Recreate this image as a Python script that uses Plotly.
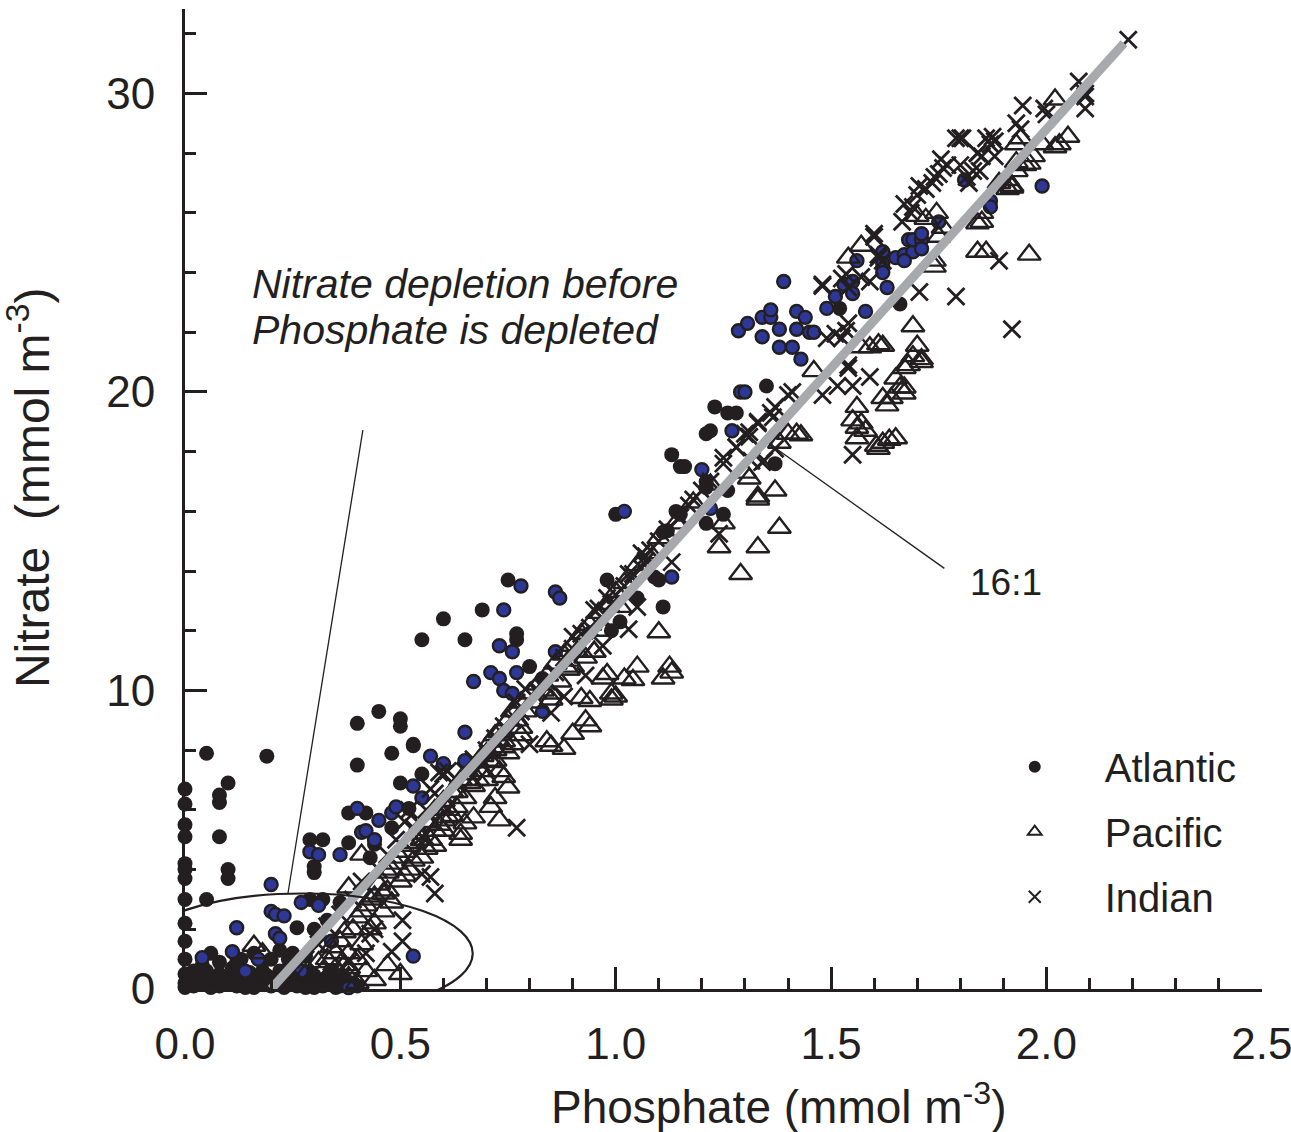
import plotly.graph_objects as go

# ---- Atlantic (solid black stations) ----
atl_black_p = [0.0, 0.0, 0.0, 0.0, 0.0, 0.0, 0.0, 0.0, 0.0, 0.0, 0.0, 0.0, 0.0, 0.0,
               0.05, 0.19, 0.10, 0.08, 0.08, 0.08, 0.10, 0.10, 0.05, 0.29, 0.32, 0.30, 0.30,
               0.40, 0.48, 0.53, 0.55, 0.50, 0.38, 0.42, 0.52, 0.48, 0.38, 0.44, 0.43, 0.29,
               0.32, 0.26, 0.30, 0.06, 0.33, 0.36,
               0.75, 0.69, 0.60, 0.55, 0.65, 0.77, 0.77, 0.80, 0.83, 0.45, 0.40, 0.50, 0.50, 0.53,
               1.35, 1.23, 1.26, 1.28, 1.21, 1.22, 1.13, 1.15, 1.16, 1.21, 1.21, 1.14, 1.15, 1.25,
               1.21, 1.26, 1.00, 1.11, 1.12, 1.09, 1.10, 0.98, 1.05, 1.11, 1.01, 0.99, 1.37, 1.52, 1.66,
               0.02, 0.03, 0.04, 0.05, 0.06, 0.07, 0.08, 0.09, 0.10, 0.11, 0.12, 0.13, 0.14, 0.15,
               0.16, 0.17, 0.18, 0.19, 0.20, 0.21, 0.22, 0.23, 0.24, 0.25, 0.26, 0.27, 0.28, 0.29,
               0.30, 0.31, 0.32, 0.33, 0.34, 0.35, 0.36, 0.38, 0.40, 0.12, 0.18, 0.24, 0.16, 0.22, 0.28,
               0.01, 0.02, 0.04, 0.06, 0.08, 0.10, 0.12, 0.14, 0.16, 0.18, 0.20, 0.22, 0.24, 0.26,
               0.28, 0.30, 0.32, 0.34, 0.36, 0.37, 0.39, 0.25, 0.13, 0.08, 0.20]
atl_black_n = [6.7, 6.2, 5.5, 5.1, 4.2, 4.0, 3.7, 3.0, 2.2, 1.6, 1.0, 0.5, 0.2, 0.05,
               7.9, 7.8, 6.9, 6.5, 6.25, 5.1, 4.0, 3.7, 3.0, 5.0, 5.0, 4.1, 3.9,
               7.5, 7.9, 8.2, 7.2, 6.9, 5.9, 5.9, 6.05, 5.4, 4.9, 4.85, 4.4, 3.0,
               3.0, 2.05, 2.0, 1.2, 2.3, 2.9,
               13.7, 12.7, 12.4, 11.7, 11.7, 11.9, 11.7, 10.8, 10.4, 9.3, 8.9, 9.05, 8.8, 8.15,
               20.2, 19.5, 19.3, 19.3, 18.6, 18.7, 17.9, 17.5, 17.5, 17.0, 16.8, 16.0, 15.9, 15.9,
               15.6, 16.7, 15.9, 15.3, 15.35, 13.8, 13.7, 13.7, 13.1, 12.8, 12.3, 12.0, 17.6, 22.8, 22.95,
               0.1, 0.4, 0.2, 0.6, 0.05, 0.3, 0.5, 0.15, 0.4, 0.7, 0.1, 0.35, 0.2, 0.55,
               0.05, 0.3, 0.15, 0.45, 0.1, 0.3, 0.6, 0.05, 0.25, 0.5, 0.1, 0.35, 0.15, 0.55,
               0.05, 0.3, 0.1, 0.4, 0.15, 0.05, 0.25, 0.05, 0.1, 0.9, 0.9, 1.0, 1.2, 1.3, 1.1,
               0.3, 0.6, 0.8, 0.4, 0.1, 0.2, 0.5, 0.05, 0.4, 0.6, 0.35, 0.15, 0.7, 0.35,
               0.05, 0.45, 0.3, 0.6, 0.1, 0.4, 0.2, 1.2, 1.0, 0.9, 1.0]

# ---- Atlantic (blue-filled stations) ----
atl_blue_p = [0.20, 0.29, 0.31, 0.36, 0.57, 0.60, 0.53, 0.55, 0.40, 0.45, 0.48, 0.49, 0.41, 0.42,
              0.44, 0.27, 0.31, 0.20, 0.21, 0.23, 0.12, 0.21, 0.22, 0.04, 0.11, 0.17, 0.14, 0.27,
              0.34, 0.53, 0.38,
              0.78, 0.86, 0.87, 0.74, 0.73, 0.76, 0.86, 0.77, 0.71, 0.73, 0.67, 0.74, 0.76, 0.83,
              0.65, 0.65,
              1.29, 1.30, 1.27, 1.20, 1.22, 1.02, 1.13,
              1.39, 1.285, 1.306, 1.34, 1.36, 1.36, 1.34, 1.38, 1.42, 1.44, 1.42, 1.45, 1.46, 1.38,
              1.41, 1.43, 1.49, 1.51, 1.53, 1.55, 1.55, 1.58, 1.56, 1.62, 1.62, 1.63, 1.65, 1.67,
              1.69, 1.67, 1.68, 1.69, 1.71, 1.71, 1.71,
              1.81, 1.99, 1.87, 1.87, 1.75, 1.62]
atl_blue_n = [3.5, 4.6, 4.5, 4.5, 7.8, 7.55, 6.8, 6.4, 6.05, 5.65, 5.9, 6.1, 5.25, 5.3,
              5.0, 2.9, 2.8, 2.6, 2.5, 2.45, 2.05, 1.85, 1.7, 1.05, 1.25, 1.0, 0.6, 0.6,
              1.6, 1.1, 0.05,
              13.5, 13.3, 13.1, 12.7, 11.5, 11.3, 11.3, 10.6, 10.6, 10.4, 10.3, 10.0, 9.9, 9.3,
              8.6, 7.65,
              20.0, 20.0, 18.7, 17.4, 16.1, 16.0, 13.8,
              23.7, 22.05, 22.3, 22.5, 22.5, 22.75, 21.85, 22.1, 22.7, 22.5, 22.1, 22.0, 22.0, 21.5,
              21.5, 21.1, 22.8, 23.2, 23.6, 23.7, 23.3, 22.7, 24.4, 24.7, 24.3, 23.5, 24.5, 24.6,
              24.7, 24.4, 25.1, 25.1, 25.1, 25.3, 24.8,
              27.1, 26.9, 26.4, 26.2, 25.7, 24.0]

# ---- Pacific ----
pac_p = [0.16, 0.18, 0.41, 0.38, 0.38, 0.64, 0.60, 0.58,
         0.30, 0.32, 0.33, 0.35, 0.36, 0.37, 0.38, 0.39, 0.40, 0.41, 0.42, 0.43, 0.44, 0.45,
         0.46, 0.47, 0.48, 0.49, 0.50, 0.51, 0.52, 0.53, 0.54, 0.55, 0.56, 0.57, 0.58, 0.59,
         0.60, 0.62, 0.63, 0.64, 0.66, 0.67, 0.68, 0.70, 0.71, 0.72, 0.73, 0.75, 0.76, 0.78,
         0.80, 0.82, 0.84, 0.86, 0.88, 0.90, 0.92, 0.94, 0.96, 0.98, 1.00, 1.02, 1.05, 1.08,
         1.10, 1.14, 1.18, 1.22,
         0.33, 0.36, 0.40, 0.42, 0.44, 0.47, 0.50,
         0.92, 0.94, 0.93, 0.94, 0.89, 0.95, 0.85, 0.85, 0.84, 0.85, 0.88, 0.90, 0.78, 0.78,
         0.74, 0.75, 0.76, 0.72, 0.73, 0.69, 0.70, 0.74, 0.75, 0.72, 0.71, 0.73, 0.67, 0.65,
         0.61, 0.60, 0.64,
         1.33, 1.25, 1.24, 1.33, 1.29, 1.10, 1.05, 1.04, 1.02, 1.125, 1.13, 1.11, 0.97, 0.98,
         0.99, 1.00, 0.99, 0.95, 0.93, 0.90, 0.89,
         1.69, 1.70, 1.69, 1.71, 1.71, 1.67, 1.68, 1.65, 1.66, 1.67, 1.67, 1.62, 1.63, 1.64,
         1.56, 1.55, 1.56, 1.57, 1.56, 1.58, 1.605, 1.62, 1.635, 1.65, 1.61, 1.61, 1.62, 1.59,
         1.57, 1.46, 1.42, 1.43, 1.33, 1.37, 1.38, 1.30, 1.31, 1.57, 1.54, 1.84,
         1.86, 1.96, 1.84, 1.85, 1.70, 1.72, 1.745, 1.76, 1.93, 1.96, 1.97, 1.99, 2.02, 2.05,
         1.93, 1.94, 2.02, 1.89, 1.91, 1.92, 1.85, 1.74, 1.75, 1.74,
         2.03, 1.95, 1.93, 1.92, 1.91, 1.38, 1.40,
         0.26, 0.28, 0.29, 0.31, 0.33, 0.34, 0.35, 0.37, 0.38, 0.40, 0.41, 0.43, 0.44, 0.46,
         0.47, 0.48, 0.50, 0.51, 0.52, 0.53, 0.55, 0.56, 0.57, 0.58, 0.59, 0.61, 0.62, 0.63,
         0.65, 0.66, 0.68, 0.69, 0.71, 0.72, 0.74, 0.77, 0.79, 0.81, 0.83, 0.87, 0.89, 0.91,
         0.97, 1.01]
pac_n = [1.45, 1.2, 4.5, 3.4, 0.7, 5.0, 5.65, 5.3,
         0.3, 0.6, 1.0, 1.2, 1.6, 0.8, 0.4, 2.0, 2.4, 1.5, 2.8, 3.0, 2.2, 3.5,
         3.2, 3.9, 2.9, 4.2, 3.6, 4.6, 4.0, 4.9, 5.2, 4.4, 5.6, 5.0, 6.0, 5.5,
         6.3, 6.6, 6.1, 7.0, 7.2, 6.8, 7.6, 7.9, 8.3, 8.0, 8.6, 9.0, 9.3, 9.6,
         9.9, 10.2, 10.5, 10.9, 11.2, 11.5, 11.9, 12.2, 12.6, 12.9, 13.3, 13.6, 14.2, 14.6,
         15.1, 15.6, 16.3, 16.9,
         0.3, 0.5, 0.2, 0.6, 0.3, 0.8, 0.5,
         9.75, 9.65, 9.0, 8.8, 10.7, 11.3, 9.9, 9.7, 8.3, 8.15, 8.05, 8.55, 8.75, 8.5,
         8.1, 7.9, 8.2, 7.65, 7.3, 7.3, 7.0, 7.1, 6.75, 6.4, 6.1, 5.65, 5.75, 5.55,
         5.75, 5.3, 5.2,
         16.4, 15.6, 14.8, 14.8, 13.9, 11.95, 10.8, 10.35, 10.4, 10.8, 10.6, 10.4, 10.4, 10.55,
         9.9, 9.8, 9.7, 11.3, 11.1, 10.8, 10.7,
         22.2, 21.55, 21.2, 21.1, 21.0, 20.8, 20.9, 20.45, 20.15, 19.95, 20.15, 19.8, 19.55, 19.8,
         19.5, 19.05, 18.8, 18.95, 18.45, 18.7, 18.2, 18.3, 18.4, 18.45, 18.1, 21.6, 21.55, 21.5,
         21.5, 20.7, 18.6, 18.55, 16.5, 16.7, 15.45, 17.3, 17.1, 24.9, 24.5, 24.7,
         24.7, 24.6, 25.65, 25.7, 25.9, 25.8, 26.0, 25.5, 27.7, 27.65, 27.9, 28.3, 28.2, 28.55,
         28.3, 28.5, 29.8, 27.0, 27.1, 26.85, 26.0, 24.4, 25.2, 24.2,
         28.3, 27.6, 27.4, 26.9, 26.8, 18.3, 18.6,
         0.2, 0.5, 0.1, 0.9, 0.4, 1.4, 0.7, 1.9, 1.2, 1.0, 2.6, 2.0, 3.1, 2.6,
         3.3, 4.0, 4.4, 3.8, 4.8, 4.3, 5.0, 4.7, 5.5, 4.8, 6.0, 6.0, 5.8, 6.6,
         6.4, 6.9, 7.0, 7.8, 7.6, 8.5, 8.3, 9.0, 9.3, 9.6, 10.0, 10.3, 11.0, 11.3,
         12.0, 12.8]

# ---- Indian ----
ind_p = [0.48, 0.58, 0.77, 0.95, 0.90, 0.93, 0.79, 0.77, 0.88, 0.85, 0.80, 0.60,
         1.30, 1.28, 1.33, 1.33, 1.25, 1.25, 1.34, 1.18, 1.24, 1.06, 1.07, 1.07, 1.03, 1.13,
         0.98, 0.96, 1.05, 1.03, 0.97,
         1.60, 1.48, 1.48, 1.525, 1.535, 1.54, 1.57, 1.59, 1.61, 1.61, 1.62, 1.705, 1.79, 1.49,
         1.51, 1.525, 1.535, 1.54, 1.515, 1.55, 1.54, 1.54, 1.59, 1.48, 1.55, 1.40, 1.41, 1.37,
         1.36, 1.365, 1.31, 1.31, 1.28, 1.315, 1.345, 1.37,
         1.945, 1.995, 2.00, 1.93, 1.94, 1.875, 1.86, 1.87, 1.88, 1.84, 1.85, 1.79, 1.80, 1.755,
         1.77, 1.76, 1.80, 1.74, 1.75, 1.735, 1.83, 1.845, 1.815, 1.82, 1.705, 1.72, 1.70, 1.67,
         1.69, 1.685, 1.665, 1.60, 1.89, 1.92, 2.09, 2.09,
         2.075, 2.09, 1.805, 1.84, 1.88, 2.19,
         0.59, 0.60, 0.61, 0.57, 0.58, 0.52, 0.51, 0.43, 0.44, 0.505, 0.505, 0.55, 0.57, 0.55,
         0.54, 0.30, 0.34, 0.38, 0.42,
         0.65, 0.70, 0.72, 0.78, 0.82, 0.86, 0.88, 0.92, 0.97, 1.00, 1.02, 1.08, 1.10, 1.12,
         1.15, 1.17, 1.20, 1.22,
         0.25, 0.28, 0.31, 0.33, 0.36, 0.39, 0.41, 0.45, 0.47, 0.49, 0.53, 0.56, 0.63, 0.67,
         0.69, 0.74, 0.76, 0.84, 0.90, 0.94, 0.99, 1.04, 1.06]
ind_n = [1.25, 3.2, 5.4, 12.7, 11.8, 10.5, 10.05, 9.6, 9.8, 9.25, 8.2, 7.2,
         18.6, 18.15, 19.0, 18.95, 17.8, 17.6, 17.65, 16.4, 15.25, 14.6, 14.5, 14.35, 13.9, 14.3,
         13.1, 12.75, 12.8, 12.05, 11.5,
         25.2, 23.6, 23.55, 23.8, 23.95, 23.5, 23.85, 23.7, 24.6, 24.5, 24.4, 23.35, 23.2, 21.8,
         21.95, 21.8, 22.05, 22.3, 20.2, 20.2, 20.9, 20.8, 20.5, 19.9, 17.9, 19.9, 20.0, 19.5,
         19.3, 19.15, 18.65, 18.5, 18.15, 17.7, 17.7, 18.1,
         29.6, 29.5, 29.3, 29.0, 28.8, 28.55, 28.5, 28.3, 28.4, 28.0, 27.9, 28.5, 28.5, 27.8,
         27.6, 27.5, 27.6, 27.2, 27.3, 27.0, 27.4, 27.4, 27.2, 27.0, 26.9, 26.8, 26.6, 26.3,
         26.2, 26.0, 25.7, 25.3, 24.4, 22.1, 29.9, 29.5,
         30.4, 30.0, 28.5, 28.0, 27.9, 31.8,
         7.25, 7.2, 7.3, 6.7, 6.55, 6.0, 5.6, 1.85, 2.0, 2.3, 1.6, 3.85, 3.75, 5.1,
         5.6, 0.2, 0.4, 0.9, 1.2,
         7.3, 8.0, 8.4, 9.3, 10.0, 10.6, 11.1, 11.9, 12.4, 13.2, 13.5, 14.7, 15.0, 15.4,
         15.8, 16.2, 16.7, 17.0,
         0.6, 1.0, 1.5, 2.1, 2.5, 3.0, 3.6, 4.0, 4.5, 5.0, 5.4, 6.0, 7.0, 7.7,
         7.5, 8.8, 9.0, 10.3, 11.4, 12.1, 12.9, 13.9, 14.1]

# ---- Redfield 16:1 reference line ----
redfield_ratio = 16
redfield_p = [0.2, 2.18]
redfield_n = [redfield_ratio * (p - 0.2) for p in redfield_p]

INK = "#231f20"
BLUE = "#2d3796"
FONT = "Liberation Sans, Arial, Helvetica, sans-serif"

fig = go.Figure()

fig.add_trace(go.Scatter(
    x=atl_black_p, y=atl_black_n, mode="markers", name="Atlantic",
    legendgroup="atl", cliponaxis=False,
    marker=dict(symbol="circle", size=15, color=INK, line=dict(width=0)),
))
fig.add_trace(go.Scatter(
    x=atl_blue_p, y=atl_blue_n, mode="markers", name="Atlantic",
    legendgroup="atl", showlegend=False, cliponaxis=False,
    marker=dict(symbol="circle", size=13, color=BLUE, line=dict(width=2.4, color=INK)),
))
fig.add_trace(go.Scatter(
    x=pac_p, y=pac_n, mode="markers", name="Pacific",
    legendgroup="pac", cliponaxis=False,
    marker=dict(symbol="triangle-up-open", size=20, color=INK, line=dict(width=2.4, color=INK)),
))
fig.add_trace(go.Scatter(
    x=ind_p, y=ind_n, mode="markers", name="Indian",
    legendgroup="ind", cliponaxis=False,
    marker=dict(symbol="x-thin-open", size=17, color=INK, line=dict(width=2.8, color=INK)),
))
fig.add_trace(go.Scatter(
    x=redfield_p, y=redfield_n, mode="lines", showlegend=False,
    line=dict(color="#a7a9ac", width=9), hoverinfo="skip",
))

axis_common = dict(
    showgrid=False, zeroline=False, showline=True, linecolor=INK, linewidth=3,
    ticks="inside", tickcolor=INK, tickwidth=2.5, ticklen=22,
    tickfont=dict(family=FONT, size=44, color=INK),
    ticklabeloverflow="allow", automargin=False,
)

fig.update_xaxes(
    range=[0, 2.5005], tickvals=[0, 0.5, 1.0, 1.5, 2.0, 2.5],
    ticktext=["0.0", "0.5", "1.0", "1.5", "2.0", "2.5"],
    minor=dict(dtick=0.1, tick0=0, ticks="inside", ticklen=11, tickwidth=2.5, tickcolor=INK),
    ticklabelstandoff=14,
    **axis_common,
)
fig.update_yaxes(
    range=[0, 32.83], tickvals=[0, 10, 20, 30],
    minor=dict(dtick=2, tick0=0, ticks="inside", ticklen=11, tickwidth=2.5, tickcolor=INK),
    ticklabelstandoff=18,
    **axis_common,
)

# 16:1 label pointer and depletion call-out
fig.add_shape(type="line", xref="x", yref="y", x0=1.369, y0=18.14, x1=1.763, y1=14.09,
              line=dict(color=INK, width=1.3))
fig.add_shape(type="line", xref="x", yref="y", x0=0.413, y0=18.72, x1=0.239, y1=3.2,
              line=dict(color=INK, width=1.3))
fig.add_shape(type="circle", xref="x", yref="y", x0=-0.121, x1=0.668, y0=-0.82, y1=3.2,
              line=dict(color=INK, width=2.2))

annotations = [
    dict(x=0.151, y=23.63, xref="x", yref="y", text="Nitrate depletion before",
         xanchor="left", yanchor="middle", showarrow=False,
         font=dict(family=FONT, size=41, color=INK, style="italic")),
    dict(x=0.151, y=22.06, xref="x", yref="y", text="Phosphate is depleted",
         xanchor="left", yanchor="middle", showarrow=False,
         font=dict(family=FONT, size=41, color=INK, style="italic")),
    dict(x=1.905, y=13.62, xref="x", yref="y", text="16:1",
         xanchor="center", yanchor="middle", showarrow=False,
         font=dict(family=FONT, size=37, color=INK)),
    dict(x=0.5515, y=-0.117, xref="paper", yref="paper",
         text="Phosphate (mmol m<sup>-3</sup>)",
         xanchor="center", yanchor="middle", showarrow=False,
         font=dict(family=FONT, size=46, color=INK)),
    dict(x=-0.145, y=0.512, xref="paper", yref="paper",
         text="Nitrate\u00a0\u00a0(mmol m<sup>-3</sup>)", textangle=-90,
         xanchor="center", yanchor="middle", showarrow=False,
         font=dict(family=FONT, size=48, color=INK)),
]

fig.update_layout(
    width=1291, height=1132,
    margin=dict(l=185, r=29, t=9, b=143, autoexpand=False),
    paper_bgcolor="white", plot_bgcolor="white",
    annotations=annotations,
    legend=dict(
        x=0.724, y=0.260, xanchor="left", yanchor="top",
        bgcolor="rgba(0,0,0,0)", borderwidth=0,
        font=dict(family=FONT, size=40, color=INK),
        itemwidth=130, tracegroupgap=10, itemsizing="constant",
    ),
)

fig.write_html("out.html")
